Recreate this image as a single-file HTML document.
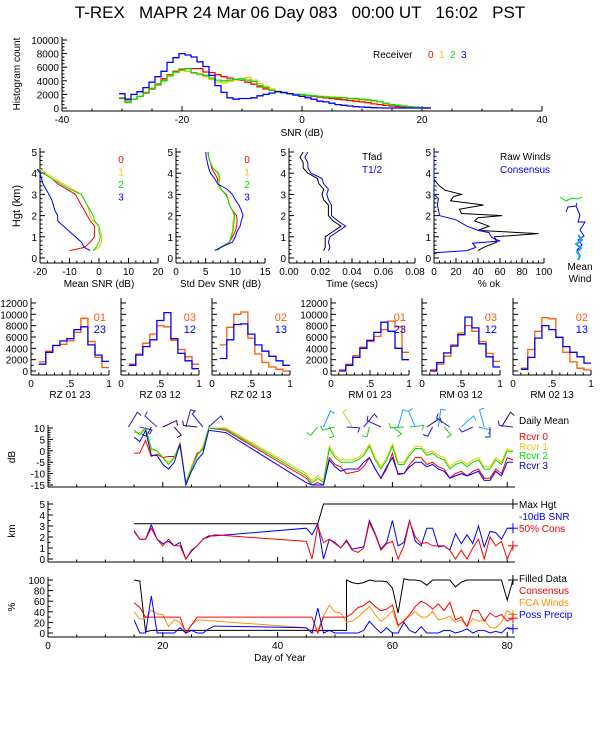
<!DOCTYPE html>
<html><head><meta charset="utf-8">
<style>
html,body{margin:0;padding:0;background:#fff;}
svg{display:block;font-family:"Liberation Sans",sans-serif;}
#title{white-space:pre;}
</style></head>
<body>
<svg id="c" width="600" height="750" viewBox="0 0 600 750">
<text id="title" x="300" y="18" font-size="17" text-anchor="middle">T-REX   MAPR 24 Mar 06 Day 083   00:00 UT   16:02   PST</text>
</svg>
<script>
// ---------- Top histogram data ----------
const snrBins = [-30,-29,-28,-27,-26,-25,-24,-23,-22,-21,-20,-19,-18,-17,-16,-15,-14,-13,-12,-11,-10,-9,-8,-7,-6,-5,-4,-3,-2,-1,0,1,2,3,4,5,6,7,8,9,10,11,12,13,14,15,16,17,18,19,20,21];
const hist0 = [1400,1000,1300,1700,2200,2800,3400,4300,4900,5400,5700,5800,5800,5800,5300,5200,4900,4600,4400,4200,4100,3800,3500,3100,2800,2600,2400,2200,2100,2000,1900,1800,1700,1600,1500,1400,1300,1200,1100,1000,900,800,600,500,400,300,200,150,100,50,20,0];
const hist1 = [1500,900,1300,1700,2300,2900,3600,4100,4800,5200,5500,5400,5100,4900,4600,4200,3800,3700,3900,4100,4200,4500,4100,3600,3200,2800,2500,2300,2100,2000,1900,1900,1800,1700,1700,1600,1600,1500,1400,1300,1200,1100,1000,900,700,500,400,300,200,150,80,0];
const hist2 = [1500,800,1300,1700,2300,2900,3500,4000,4700,5300,5600,5800,5200,5000,4800,4400,4100,4000,4100,4200,4300,4100,3900,3300,3000,2600,2400,2200,2100,2000,2000,1900,1800,1700,1600,1600,1500,1500,1400,1400,1300,1200,1100,900,700,500,400,300,200,100,50,0];
const hist3 = [2100,1300,2000,2400,3000,3800,4600,5400,6700,7400,8000,7800,7500,6800,6100,4800,3300,2300,1500,1300,1400,1400,1500,1800,2000,2200,2400,2300,2100,1900,1700,1500,1300,1000,900,700,500,400,300,200,150,100,50,20,0,0,0,0,0,0,0,0];
const histTicks = [0,2000,4000,6000,8000,10000];
const snrTicks = [-40,-20,0,20,40];
// ---------- Profiles ----------
const meanH = [0.35,0.5,0.75,1,1.25,1.5,1.75,2,2.25,2.5,2.75,3,3.25,3.5,3.75,4,4.2];
const mean0 = [-10,-5,-3,-1.5,-1.5,-1.5,-3,-4,-5,-6,-7,-8,-11,-14,-16,-19,-21];
const mean1 = [-2,0,0.8,1,0.5,0,-2,-3,-3.5,-4,-5,-6,-9,-12,-15,-18,-20];
const mean2 = [-2,-1,0,0.5,0,0,-1.5,-2,-3,-4,-5,-6,-10,-13,-16,-19,-21];
const mean3 = [-3,-5,-6,-8,-10,-12,-14,-14,-15,-15.5,-16,-17,-18,-19,-19.5,-20,-21];
const sdH = [0.35,0.5,0.75,1,1.25,1.5,1.75,2,2.25,2.5,2.75,3,3.25,3.5,3.75,4,4.25,4.5,4.75,5];
const sd0 = [7,7.5,9,9.5,10,10.2,10.3,10.2,9.5,9,8.8,8.5,7.5,7,7,6.5,6,5.8,5.5,5.3];
const sd1 = [7,7.7,9,9.2,9.5,9.5,9.6,9.8,9.5,9,8.8,8.3,7.5,7,7.2,7,6.2,5.8,5.5,5.3];
const sd2 = [7,7.5,9,9.3,9.6,9.7,9.8,9.9,9.5,9,8.8,8.4,7.6,7.2,7.4,7.2,6.2,5.8,5.5,5.5];
const sd3 = [6.5,7.5,9.5,10,10.3,10.8,11,11.3,11,10.6,10,9.5,8.6,7,6.5,5.8,5.5,5.3,5.1,5];
const tfad = [0.022,0.023,0.023,0.023,0.028,0.033,0.028,0.025,0.025,0.025,0.022,0.021,0.022,0.019,0.018,0.012,0.009,0.009,0.007,0.009];
const thalf = [0.025,0.026,0.025,0.026,0.031,0.036,0.031,0.027,0.027,0.027,0.025,0.024,0.025,0.022,0.021,0.014,0.012,0.012,0.010,0.012];
const rawH = [0.35,0.5,0.75,1,1.15,1.3,1.5,1.75,1.9,2,2.1,2.3,2.5,2.7,2.9,3.0,3.2,3.4,3.7];
const rawPct = [40,45,57,55,95,40,50,37,40,62,25,23,45,15,18,25,10,5,0];
const consH = [0.25,0.35,0.5,0.7,0.8,0.9,1.0,1.2,1.3,1.5,1.8,2,2.3,2.5,2.8,3.0,5.0];
const consPct = [0,30,38,35,60,55,52,50,40,30,20,5,4,3,4,0,0];
// ---------- Small histograms ----------
const rBins = [0.1,0.19,0.28,0.37,0.46,0.55,0.64,0.73,0.82,0.91];
const rz01 = [1600,3500,4500,4700,5300,6800,9300,5200,2400,600];
const rz23 = [1200,3300,4500,5300,5700,7300,7800,4600,2800,1700];
const rz03 = [1200,3000,4900,6500,8000,7800,5400,3800,2500,1200];
const rz12 = [1000,2800,4300,5500,8900,10300,5700,3100,1800,400];
const rz02 = [4600,7700,10000,10400,5800,3000,1500,700,300,0];
const rz13 = [2200,5500,8200,8300,6500,4600,3500,2600,1800,1000];
const rm01 = [200,1200,2700,4200,5200,6100,7300,8800,7800,3300];
const rm23 = [0,1000,2400,4000,5400,6800,8600,7000,4000,2000];
const rm03 = [200,1200,2600,4600,6700,8000,7000,5200,3100,1700];
const rm12 = [0,1500,3200,4400,6400,9500,7600,4800,2500,700];
const rm02 = [500,3800,7000,9400,9200,6000,3300,1600,500,200];
const rm13 = [300,2400,5800,8000,7300,5900,4300,3300,2500,1400];
const rTicks = [0,2000,4000,6000,8000,10000,12000];
// ---------- Time series ----------
const snrDays = [15,16,17,18,19,20,21,22,23,24,25,26,27,28,31,45,46,47,48,49,50,51,52,53,54,55,56,57,58,59,60,61,62,63,64,65,66,67,68,69,70,71,72,73,74,75,76,77,78,79,80,81];
const rv0 = [-1,-1,4.5,-2.5,-1.5,-3,-2.5,-2.5,2,-14,-7,-1,0.5,10,9,-12,-15,-14,-15,-3,-6,-7,-10,-9.5,-9,-7,-3,-8,-12,-8,-1,-10.5,-10,-6,-3,-3,-6,-5,-7,-8,-12,-10,-9,-11,-9,-8,-12,-12,-8,-10,-3,-4];
const rv1 = [8,8,10,0,0,-3,-5,-3,4,-14,-7,-2,2,10,10,-10,-13,-11,-13,2,-2,-4,-4,-4,-3,-1,3,-3,-7,-3,3,-5,-5,-1,2,2,-1,0,-2,-3,-7,-5,-4,-6,-4,-3,-7,-7,-3,-5,1,0];
const rv2 = [9,7,10,1,0,-3,-6,-3,3,-14,-8,-2,1,10,9.5,-11,-14,-12,-14,1,-3,-5,-5,-5,-4,-2,2,-4,-8,-4,2,-6,-6,-2,1,1,-2,-1,-3,-4,-8,-6,-5,-7,-5,-4,-8,-8,-4,-6,0,-0.5];
const rv3 = [6,4,9,-2,-2,-6,-8,-5,3,-15,-9,-4,-1,9,8,-14,-15,-15,-15,-4,-7,-9,-8,-8,-8,-5,-3,-8,-12,-7,-3,-10,-10,-7,-5,-5,-7,-6,-8,-9,-12,-11,-10,-11,-10,-9,-13,-13,-9,-11,-5,-5];
const windDays = [14,16,18,19,20,22,24,26,27,28,47,48,49,50,52,53,55,56,58,60,61,62,63,64,66,67,68,69,70,72,74,75,76,77,79,81];
const windDir = [40,120,200,300,80,150,20,260,310,60,210,30,160,240,110,320,50,190,280,140,20,250,100,330,70,200,10,150,290,60,230,120,340,180,40,260];
const windCol = ['#22228a','#2020e0','#400060','#3030d0','#400060','#400060','#2020e0','#400060','#2020e0','#2020e0','#20d020','#20a0ff','#20d020','#20d020','#2020e0','#d0d020','#2020e0','#20d020','#2020e0','#20d020','#20a0ff','#20d020','#20d020','#20a0ff','#400060','#2020e0','#20a0ff','#20d020','#2020e0','#20a0ff','#2020e0','#20a0ff','#20a0ff','#2020e0','#400060','#2020e0'];
const maxDays = [15,47,48,81];
const maxHgt = [3.2,3.2,5,5];
const consDays = [15,16,17,18,19,20,21,22,23,24,25,26,27,28,29,45,46,47,48,49,50,51,52,53,54,55,56,57,58,59,60,61,62,63,64,65,66,67,68,69,70,71,72,73,74,75,76,77,78,79,80,81];
const cons50 = [2.6,1.8,1.8,2.8,1.8,1.2,1.8,1.2,1.2,0,0.7,1.2,1.8,2.0,2.2,1.6,0,3.0,1.5,1.8,1.4,1.0,1.6,0.8,0.6,1.0,3.3,2.2,0.8,1.4,1.6,0,1.2,3.4,2.0,1.4,1.5,1.2,1.2,1.2,0.8,0,0.8,0,1.0,1.8,0,2.0,1.2,1.6,0,1.2];
const snr10 = [2.5,1.8,1.8,3.1,1.8,1.4,1.6,1.2,1.5,0,0.8,1.2,1.8,2.1,2.1,2.8,2.2,3.2,0,1.8,1.5,1.0,1.7,0.9,1.0,1.1,3.5,2.3,0.9,1.5,3.5,1.2,1.5,3.5,1.6,1.2,2.8,2.8,1.1,1.2,0.8,2.3,1.4,2.2,1.4,3.0,1.1,2.5,2.4,1.8,2.8,2.8];
const filledDays = [15,16,17,18,45,52,52,53,54,55,56,57,58,59,60,61,62,63,64,65,66,67,68,69,70,71,72,73,74,75,76,77,78,79,80,81];
const filled = [100,98,2,5,5,5,100,95,93,95,100,98,98,97,85,38,102,100,100,98,90,100,100,100,100,87,96,100,100,100,100,100,100,100,62,100];
const pctDays = [15,16,17,18,19,20,21,22,23,24,25,26,45,46,47,48,49,50,51,52,53,54,55,56,57,58,59,60,61,62,63,64,65,66,67,68,69,70,71,72,73,74,75,76,77,78,79,80,81];
const consPctTS = [57,48,30,30,30,30,30,30,30,0,15,30,30,30,0,30,30,30,30,30,37,48,52,60,50,42,45,53,15,22,35,50,60,55,45,55,42,58,25,30,12,43,42,22,38,30,35,22,28];
const fcaPct = [40,26,28,43,36,35,12,25,20,0,15,25,10,0,5,32,52,40,38,20,22,30,40,50,35,22,30,42,12,25,32,40,30,30,40,25,27,32,20,25,12,27,22,25,10,10,20,42,35];
const precDays = [15,16,17,18,19,20,21,22,23,24,25,26,27,28,29,45,46,47,48,49,50,51,52,53,54,55,56,57,58,59,60,61,62,63,64,65,66,67,68,69,70,71,72,73,74,75,76,77,78,79,80,81];
const precPct = [25,0,0,70,0,0,0,0,10,0,5,0,0,8,13,10,0,47,0,5,0,0,0,0,0,5,22,10,0,10,0,0,20,5,0,12,0,0,0,5,5,0,3,8,0,5,5,0,3,0,10,8];
const dayTicks = [0,20,40,60,80];

const NS='http://www.w3.org/2000/svg';
const svg=document.getElementById('c');
function mk(tag,attrs){const e=document.createElementNS(NS,tag);for(const k in attrs)e.setAttribute(k,attrs[k]);svg.appendChild(e);return e;}
function txt(x,y,s,opt){opt=opt||{};const e=mk('text',{x:x,y:y,'font-size':opt.fs||10,'text-anchor':opt.a||'middle',fill:opt.c||'#000'});if(opt.rot)e.setAttribute('transform','rotate(-90 '+x+' '+y+')');e.textContent=s;return e;}
function line(x1,y1,x2,y2,c){return mk('line',{x1:x1,y1:y1,x2:x2,y2:y2,stroke:c||'#000','stroke-width':1});}
function poly(xs,ys,fx,fy,c){let d='';for(let i=0;i<xs.length;i++)d+=(i?'L':'M')+fx(xs[i]).toFixed(1)+' '+fy(ys[i]).toFixed(1);return mk('path',{d:d,fill:'none',stroke:c,'stroke-width':1});}
function stairs(bins,w,vals,fx,fy,c,base){let d='';for(let i=0;i<bins.length;i++){const x0=fx(bins[i]-w/2),x1=fx(bins[i]+w/2),y=fy(vals[i]);d+=(i?'L':'M')+x0.toFixed(1)+' '+y.toFixed(1)+'L'+x1.toFixed(1)+' '+y.toFixed(1);}return mk('path',{d:d,fill:'none',stroke:c,'stroke-width':1.3});}
function yAxis(x,yTop,yBot,ticks,fy,labels,minor){const a=line(x,yTop,x,yBot);


ticks.forEach(t=>{line(x,fy(t),x+5,fy(t));if(labels){const l=txt(x-3,fy(t)+4,String(t),{a:'end'});

}});
if(minor){for(let i=0;i<ticks.length-1;i++){for(let k=1;k<minor;k++){const v=ticks[i]+(ticks[i+1]-ticks[i])*k/minor;line(x,fy(v),x+2.5,fy(v));}}}}
function xAxis(y,xL,xR,ticks,fx,labels,minor,fmt){const a=line(xL,y,xR,y);


ticks.forEach(t=>{line(fx(t),y,fx(t),y-5);if(labels){const l=txt(fx(t),y+12,fmt?fmt(t):String(t));

}});
if(minor){for(let i=0;i<ticks.length-1;i++){for(let k=1;k<minor;k++){const v=ticks[i]+(ticks[i+1]-ticks[i])*k/minor;line(fx(v),y,fx(v),y-2.5);}}}}

const RED='#ff0000',YEL='#ffbf00',GRN='#00e000',BLU='#0000ff',ORG='#ff5a00',FCA='#ff9000';

// ===== Top histogram =====
{const fx=v=>302+v*6, fy=v=>108-v*0.0068;
yAxis(62,37,111,histTicks,fy,true,4);
xAxis(111,62,542,snrTicks,fx,true,4);
const t=txt(302,136,'SNR (dB)');


const yt=txt(20,74,'Histogram count',{rot:true});


[[hist0,RED],[hist1,YEL],[hist2,GRN],[hist3,BLU]].forEach((s,i)=>{const p=stairs(snrBins,1,s[0],fx,fy,s[1]);

});
const lg=txt(373,58,'Receiver',{a:'start'});


['0','1','2','3'].forEach((s,i)=>{const e=txt(428+i*11,58,s,{a:'start',c:[RED,YEL,GRN,BLU][i]});

});}

// ===== Profile panels =====
const fyH=h=>258-21.2*h;
const hTicks=[0,1,2,3,4,5];
function profPanel(x0,w,min,max,ticks,fmt,title,showY){const fx=v=>x0+(v-min)/(max-min)*w;
yAxis(x0,148,263,hTicks,fyH,true,5);
xAxis(263,x0,x0+w,ticks,fx,true,4,fmt);
const t=txt(x0+w/2,287,title);


return fx;}
{const fx=profPanel(40,118,-20,20,[-20,-10,0,10,20],null,'Mean SNR (dB)');
const yt=txt(20,206,'Hgt (km)',{rot:true,fs:11});


[[mean0,RED],[mean1,YEL],[mean2,GRN],[mean3,BLU]].forEach((s,i)=>{const p=poly(s[0],meanH,fx,fyH,s[1]);


const l=txt(121,163+i*12.5,String(i),{c:s[1]});

});}
{const fx=profPanel(176,89,0,15,[0,5,10,15],null,'Std Dev SNR (dB)');
[[sd0,RED],[sd1,YEL],[sd2,GRN],[sd3,BLU]].forEach((s,i)=>{const p=poly(s[0],sdH,fx,fyH,s[1]);


const l=txt(247,163+i*12.5,String(i),{c:s[1]});

});}
{const fx=profPanel(289,126,0,0.08,[0,0.02,0.04,0.06,0.08],t=>t.toFixed(2),'Time (secs)');
const a=poly(tfad,sdH,fx,fyH,'#000');


const b=poly(thalf,sdH,fx,fyH,BLU);


const l1=txt(362,160,'Tfad',{a:'start'});


const l2=txt(362,173,'T1/2',{a:'start',c:BLU});

}
{const fx=profPanel(434,110,0,100,[0,20,40,60,80,100],null,'% ok');
const a=poly(rawPct,rawH,fx,fyH,'#000');


const b=poly(consPct,consH,fx,fyH,BLU);


const l1=txt(500,160,'Raw Winds',{a:'start'});


const l2=txt(500,173,'Consensus',{a:'start',c:BLU});


const mw1=mk('path',{d:'M560 197 L566 201 L572 198 L578 199 L582 197',fill:'none',stroke:GRN});


const mw2=mk('path',{d:'M566 212 L568 207 L576 206 L577 203 M576 206 L580 215 L578 222 L585 222 L580 230 L584 236 L578 240 L582 245 L577 250 L580 256',fill:'none',stroke:BLU});


const mw3=mk('path',{d:'M578 235 L582 240 L576 244 L581 248 L577 252 L580 256 L578 260',fill:'none',stroke:'#20a0ff','stroke-width':2});


const m1=txt(580,270,'Mean');


const m2=txt(580,282,'Wind');

}

// ===== Small histograms =====
const fyR=v=>371-v*0.00567;
function smallHist(x0,a,b,la,lb,title,labels,name){const fx=v=>x0+v*78;
yAxis(x0,298,375,rTicks,fyR,labels,2);
xAxis(375,x0,x0+78,[0,0.5,1],fx,true,5,t=>t===0.5?'.5':String(t));
const p1=stairs(rBins,0.09,a,v=>fx(v+0.045),fyR,ORG);


const p2=stairs(rBins,0.09,b,v=>fx(v+0.045),fyR,BLU);


const l1=txt(x0+75,321,la,{a:'end',c:ORG,fs:11});


const l2=txt(x0+75,333,lb,{a:'end',c:BLU,fs:11});


const t=txt(x0+39,398,title);

}
smallHist(31,rz01,rz23,'01','23','RZ   01  23',true,'rz-01-23');
smallHist(121,rz03,rz12,'03','12','RZ   03  12',false,'rz-03-12');
smallHist(212,rz02,rz13,'02','13','RZ   02  13',false,'rz-02-13');
smallHist(331,rm01,rm23,'01','23','RM   01  23',true,'rm-01-23');
smallHist(422,rm03,rm12,'03','12','RM   03  12',false,'rm-03-12');
smallHist(513,rm02,rm13,'02','13','RM   02  13',false,'rm-02-13');

// ===== Time series =====
const X=d=>48+d*5.74;
const YA=v=>428+(10-v)*2.28, YB=v=>559-v*11, YC=v=>633-v*0.53;
yAxis(48,425,487,[-15,-10,-5,0,5,10],YA,true,5);
xAxis(487,48,515,dayTicks,X,false,4);
yAxis(48,501,562,[0,1,2,3,4,5],YB,true,2);
xAxis(562,48,515,dayTicks,X,false,4);
yAxis(48,577,637,[0,20,40,60,80,100],YC,true,2);
xAxis(637,48,515,dayTicks,X,true,4);
{const t=txt(280,661,'Day of Year');


const a=txt(15,457,'dB',{rot:true});


const b=txt(15,531,'km',{rot:true});


const c=txt(15,607,'%',{rot:true});

}
windDays.forEach((d,i)=>{const a=windDir[i]*Math.PI/180,x=X(d),y=427,l=14;
const x2=x+Math.sin(a)*l,y2=y-Math.cos(a)*l-4;
const e=mk('path',{d:'M'+x.toFixed(1)+' '+y+' L'+x2.toFixed(1)+' '+y2.toFixed(1)+' l'+(Math.cos(a)*5).toFixed(1)+' '+(Math.sin(a)*5).toFixed(1),fill:'none',stroke:windCol[i]});

});
[[rv0,RED],[rv1,YEL],[rv2,GRN],[rv3,BLU]].forEach((s,i)=>{const p=poly(snrDays,s[0].map(v=>Math.max(v,-15.5)),X,YA,s[1]);

});
{const p=poly(maxDays,maxHgt,X,YB,'#000');


const q=poly(consDays,snr10,X,YB,BLU);


const r=poly(consDays,cons50,X,YB,RED);


const f=poly(filledDays,filled,X,YC,'#000');


const g=poly(pctDays,fcaPct,X,YC,FCA);


const h=poly(pctDays,consPctTS,X,YC,RED);


const k=poly(precDays,precPct,X,YC,BLU);

}
[[YB(5),'#000'],[YB(2.8),BLU],[YB(1.2),RED],[YC(100),'#000'],[YC(35),FCA],[YC(28),RED],[YC(8),BLU]].forEach(m=>{const x=X(81);line(x-5,m[0],x+5,m[0],m[1]);const e=line(x,m[0]-5,x,m[0]+5,m[1]);

});
[['Daily Mean',424,'#000'],['Rcvr 0',440,RED],['Rcvr 1',450,YEL],['Rcvr 2',459,GRN],['Rcvr 3',469,BLU],
 ['Max Hgt',508,'#000'],['-10dB SNR',520,BLU],['50% Cons',532,RED],
 ['Filled Data',582,'#000'],['Consensus',594,RED],['FCA Winds',606,FCA],['Poss Precip',618,BLU]].forEach(l=>{const e=txt(519,l[1],l[0],{a:'start',c:l[2]});

});
</script>
</body></html>
